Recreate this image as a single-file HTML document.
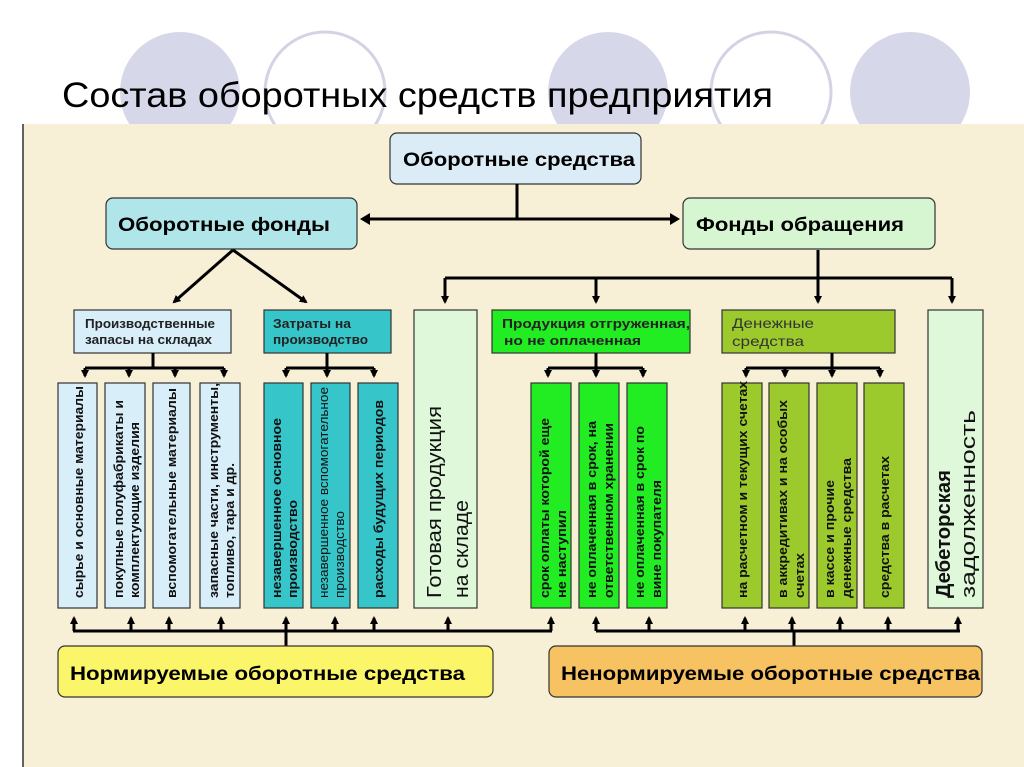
<!DOCTYPE html>
<html><head><meta charset="utf-8"><style>
html,body{margin:0;padding:0;background:#fff;width:1024px;height:767px;overflow:hidden}
svg{display:block}
text{font-family:"Liberation Sans","DejaVu Sans",sans-serif}
.c{font-size:12.5px;font-weight:bold;fill:#111}
</style></head><body>
<svg width="1024" height="767" viewBox="0 0 1024 767" xmlns="http://www.w3.org/2000/svg">
<defs>
<marker id="a" markerWidth="8" markerHeight="8" refX="6" refY="4" orient="auto" markerUnits="userSpaceOnUse">
<path d="M0,0 L8,4 L0,8 z" fill="#000"/></marker>
</defs>
<ellipse cx="180" cy="92" rx="60" ry="60" fill="#d7d7ea"/>
<ellipse cx="325" cy="92" rx="60" ry="60" fill="#fff" stroke="#d3d3e3" stroke-width="3"/>
<ellipse cx="608" cy="92" rx="60" ry="60" fill="#d7d7ea"/>
<ellipse cx="771" cy="92" rx="60" ry="60" fill="#fff" stroke="#d3d3e3" stroke-width="3"/>
<ellipse cx="910" cy="92" rx="60" ry="60" fill="#d7d7ea"/>
<text x="62" y="107" font-size="35" fill="#000" textLength="711" lengthAdjust="spacingAndGlyphs">Состав оборотных средств предприятия</text>
<rect x="22" y="124" width="1002" height="643" fill="#f7efd6"/>
<line x1="23" y1="124" x2="23" y2="767" stroke="#333" stroke-width="1.5"/>

<rect x="390" y="133" width="251" height="51" rx="7" fill="#dcecf6" stroke="#333" stroke-width="1.2"/>
<text x="403" y="166" font-size="19" font-weight="bold" textLength="232" lengthAdjust="spacingAndGlyphs">Оборотные средства</text>
<rect x="106" y="198" width="251" height="51" rx="7" fill="#b0e6ea" stroke="#333" stroke-width="1.2"/>
<text x="118" y="231" font-size="19" font-weight="bold" textLength="212" lengthAdjust="spacingAndGlyphs">Оборотные фонды</text>
<rect x="683" y="198" width="252" height="51" rx="7" fill="#d6f6d2" stroke="#333" stroke-width="1.2"/>
<text x="696" y="231" font-size="19" font-weight="bold" textLength="208" lengthAdjust="spacingAndGlyphs">Фонды обращения</text>

<g stroke="#000" stroke-width="3" fill="none">
<line x1="517" y1="184" x2="517" y2="219"/>
<line x1="368" y1="219" x2="672" y2="219"/>
<line x1="233" y1="250" x2="174" y2="302" marker-end="url(#a)"/>
<line x1="233" y1="250" x2="306" y2="302" marker-end="url(#a)"/>
<line x1="818" y1="250" x2="818" y2="278"/>
<line x1="445" y1="278" x2="952" y2="278"/>
<line x1="445" y1="278" x2="445" y2="302" marker-end="url(#a)"/>
<line x1="596" y1="278" x2="596" y2="302" marker-end="url(#a)"/>
<line x1="818" y1="278" x2="818" y2="302" marker-end="url(#a)"/>
<line x1="952" y1="278" x2="952" y2="302" marker-end="url(#a)"/>
</g>
<path d="M360,219 L370,213 L370,225 z M680,219 L670,213 L670,225 z" fill="#000"/>

<g stroke="#333" stroke-width="1.2">
<rect x="74" y="310" width="157" height="43" fill="#d8eef9"/>
<rect x="264" y="310" width="127" height="43" fill="#36c5c9"/>
<rect x="414" y="310" width="63" height="298" fill="#dff8d9"/>
<rect x="492" y="310" width="198" height="43" fill="#22ec22"/>
<rect x="722" y="310" width="173" height="43" fill="#9cca2c"/>
<rect x="928" y="310" width="55" height="298" fill="#dff8d9"/>
</g>
<g font-size="12.5" font-weight="bold" fill="#222">
<text x="85" y="328" textLength="130" lengthAdjust="spacingAndGlyphs">Производственные</text>
<text x="85" y="344" textLength="127" lengthAdjust="spacingAndGlyphs">запасы на складах</text>
<text x="273" y="328" textLength="78" lengthAdjust="spacingAndGlyphs">Затраты на</text>
<text x="273" y="344" textLength="95" lengthAdjust="spacingAndGlyphs">производство</text>
<text x="502" y="328" textLength="188" lengthAdjust="spacingAndGlyphs">Продукция отгруженная,</text>
<text x="504" y="345" textLength="137" lengthAdjust="spacingAndGlyphs">но не оплаченная</text>
</g>
<text x="732" y="328" font-size="14" fill="#333" textLength="82" lengthAdjust="spacingAndGlyphs">Денежные</text>
<text x="732" y="346" font-size="14" fill="#333" textLength="72" lengthAdjust="spacingAndGlyphs">средства</text>

<g stroke="#000" stroke-width="3" fill="none">
<line x1="153" y1="353" x2="153" y2="368"/><line x1="85" y1="368" x2="224" y2="368"/>
<line x1="85" y1="368" x2="85" y2="376" marker-end="url(#a)"/>
<line x1="129" y1="368" x2="129" y2="376" marker-end="url(#a)"/>
<line x1="175" y1="368" x2="175" y2="376" marker-end="url(#a)"/>
<line x1="224" y1="368" x2="224" y2="376" marker-end="url(#a)"/>
<line x1="327" y1="353" x2="327" y2="368"/><line x1="286" y1="368" x2="374" y2="368"/>
<line x1="286" y1="368" x2="286" y2="376" marker-end="url(#a)"/>
<line x1="327" y1="368" x2="327" y2="376" marker-end="url(#a)"/>
<line x1="374" y1="368" x2="374" y2="376" marker-end="url(#a)"/>
<line x1="596" y1="353" x2="596" y2="368"/><line x1="548" y1="368" x2="643" y2="368"/>
<line x1="548" y1="368" x2="548" y2="376" marker-end="url(#a)"/>
<line x1="596" y1="368" x2="596" y2="376" marker-end="url(#a)"/>
<line x1="643" y1="368" x2="643" y2="376" marker-end="url(#a)"/>
<line x1="832" y1="353" x2="832" y2="368"/><line x1="746" y1="368" x2="880" y2="368"/>
<line x1="746" y1="368" x2="746" y2="376" marker-end="url(#a)"/>
<line x1="785" y1="368" x2="785" y2="376" marker-end="url(#a)"/>
<line x1="832" y1="368" x2="832" y2="376" marker-end="url(#a)"/>
<line x1="880" y1="368" x2="880" y2="376" marker-end="url(#a)"/>
</g>

<g stroke="#333" stroke-width="1.2">
<rect x="58" y="383" width="39" height="225" fill="#d8eef9"/>
<rect x="105" y="383" width="40" height="225" fill="#d8eef9"/>
<rect x="153" y="383" width="37" height="225" fill="#d8eef9"/>
<rect x="200" y="383" width="40" height="225" fill="#d8eef9"/>
<rect x="264" y="383" width="39" height="225" fill="#36c5c9"/>
<rect x="311" y="383" width="39" height="225" fill="#36c5c9"/>
<rect x="358" y="383" width="40" height="225" fill="#36c5c9"/>
<rect x="531" y="383" width="40" height="225" fill="#22ec22"/>
<rect x="579" y="383" width="40" height="225" fill="#22ec22"/>
<rect x="627" y="383" width="40" height="225" fill="#22ec22"/>
<rect x="722" y="383" width="40" height="225" fill="#9cca2c"/>
<rect x="769" y="383" width="40" height="225" fill="#9cca2c"/>
<rect x="817" y="383" width="40" height="225" fill="#9cca2c"/>
<rect x="864" y="383" width="40" height="225" fill="#9cca2c"/>
</g>
<g class="c" style="font-size:12.5px;font-weight:bold">
<text transform="translate(83,598) rotate(-90)" textLength="212" lengthAdjust="spacingAndGlyphs">сырье и основные материалы</text>
<text transform="translate(123,598) rotate(-90)" textLength="198" lengthAdjust="spacingAndGlyphs">покупные полуфабрикаты и</text>
<text transform="translate(139,598) rotate(-90)" textLength="176" lengthAdjust="spacingAndGlyphs">комплектующие изделия</text>
<text transform="translate(176,598) rotate(-90)" textLength="210" lengthAdjust="spacingAndGlyphs">вспомогательные материалы</text>
<text transform="translate(218,598) rotate(-90)" textLength="215" lengthAdjust="spacingAndGlyphs">запасные части, инструменты,</text>
<text transform="translate(234,598) rotate(-90)" textLength="135" lengthAdjust="spacingAndGlyphs">топливо, тара и др.</text>
<text transform="translate(281,598) rotate(-90)" textLength="180" lengthAdjust="spacingAndGlyphs">незавершенное основное</text>
<text transform="translate(297,598) rotate(-90)" textLength="98" lengthAdjust="spacingAndGlyphs">производство</text>
<text transform="translate(328,598) rotate(-90)" textLength="211" lengthAdjust="spacingAndGlyphs" style="font-weight:normal">незавершенное вспомогательное</text>
<text transform="translate(344,598) rotate(-90)" textLength="87" lengthAdjust="spacingAndGlyphs" style="font-weight:normal">производство</text>
<text transform="translate(383,598) rotate(-90)" textLength="198" lengthAdjust="spacingAndGlyphs">расходы будущих периодов</text>
<text transform="translate(549,598) rotate(-90)" textLength="180" lengthAdjust="spacingAndGlyphs">срок оплаты которой еще</text>
<text transform="translate(566,598) rotate(-90)" textLength="88" lengthAdjust="spacingAndGlyphs">не  наступил</text>
<text transform="translate(596,598) rotate(-90)" textLength="177" lengthAdjust="spacingAndGlyphs">не оплаченная в срок,  на</text>
<text transform="translate(613,598) rotate(-90)" textLength="175" lengthAdjust="spacingAndGlyphs">ответственном хранении</text>
<text transform="translate(644,598) rotate(-90)" textLength="172" lengthAdjust="spacingAndGlyphs">не оплаченная в срок по</text>
<text transform="translate(661,598) rotate(-90)" textLength="118" lengthAdjust="spacingAndGlyphs">вине покупателя</text>
<text transform="translate(747,598) rotate(-90)" textLength="217" lengthAdjust="spacingAndGlyphs">на расчетном и текущих счетах</text>
<text transform="translate(787,598) rotate(-90)" textLength="198" lengthAdjust="spacingAndGlyphs">в аккредитивах и на особых</text>
<text transform="translate(804,598) rotate(-90)" textLength="45" lengthAdjust="spacingAndGlyphs">счетах</text>
<text transform="translate(834,598) rotate(-90)" textLength="118" lengthAdjust="spacingAndGlyphs">в кассе и прочие</text>
<text transform="translate(851,598) rotate(-90)" textLength="140" lengthAdjust="spacingAndGlyphs">денежные средства</text>
<text transform="translate(889,598) rotate(-90)" textLength="142" lengthAdjust="spacingAndGlyphs">средства в расчетах</text>
</g>
<text transform="translate(441,598) rotate(-90)" font-size="20" fill="#111" textLength="192" lengthAdjust="spacingAndGlyphs">Готовая продукция</text>
<text transform="translate(468,598) rotate(-90)" font-size="20" fill="#111" textLength="98" lengthAdjust="spacingAndGlyphs">на складе</text>
<text transform="translate(950,598) rotate(-90)" font-size="20" font-weight="bold" fill="#111" textLength="128" lengthAdjust="spacingAndGlyphs">Дебеторская</text>
<text transform="translate(975,598) rotate(-90)" font-size="20" fill="#111" textLength="188" lengthAdjust="spacingAndGlyphs">задолженность</text>

<g stroke="#000" stroke-width="3" fill="none">
<line x1="73" y1="631" x2="552" y2="631"/>
<line x1="286" y1="631" x2="286" y2="646"/>
<line x1="596" y1="631" x2="960" y2="631"/>
<line x1="794" y1="631" x2="794" y2="646"/>
</g>
<g stroke="#000" stroke-width="3">
<line x1="74" y1="631" x2="74" y2="618" marker-end="url(#a)"/>
<line x1="131" y1="631" x2="131" y2="618" marker-end="url(#a)"/>
<line x1="169" y1="631" x2="169" y2="618" marker-end="url(#a)"/>
<line x1="221" y1="631" x2="221" y2="618" marker-end="url(#a)"/>
<line x1="286" y1="631" x2="286" y2="618" marker-end="url(#a)"/>
<line x1="335" y1="631" x2="335" y2="618" marker-end="url(#a)"/>
<line x1="374" y1="631" x2="374" y2="618" marker-end="url(#a)"/>
<line x1="448" y1="631" x2="448" y2="618" marker-end="url(#a)"/>
<line x1="551" y1="631" x2="551" y2="618" marker-end="url(#a)"/>
<line x1="596" y1="631" x2="596" y2="618" marker-end="url(#a)"/>
<line x1="649" y1="631" x2="649" y2="618" marker-end="url(#a)"/>
<line x1="745" y1="631" x2="745" y2="618" marker-end="url(#a)"/>
<line x1="792" y1="631" x2="792" y2="618" marker-end="url(#a)"/>
<line x1="840" y1="631" x2="840" y2="618" marker-end="url(#a)"/>
<line x1="888" y1="631" x2="888" y2="618" marker-end="url(#a)"/>
<line x1="958" y1="631" x2="958" y2="618" marker-end="url(#a)"/>
</g>

<rect x="58" y="646" width="435" height="51" rx="7" fill="#fbf56a" stroke="#333" stroke-width="1.2"/>
<text x="70" y="680" font-size="19" font-weight="bold" textLength="395" lengthAdjust="spacingAndGlyphs">Нормируемые оборотные средства</text>
<rect x="549" y="646" width="433" height="51" rx="7" fill="#f6c262" stroke="#333" stroke-width="1.2"/>
<text x="561" y="680" font-size="19" font-weight="bold" textLength="419" lengthAdjust="spacingAndGlyphs">Ненормируемые оборотные средства</text>
</svg>
</body></html>
